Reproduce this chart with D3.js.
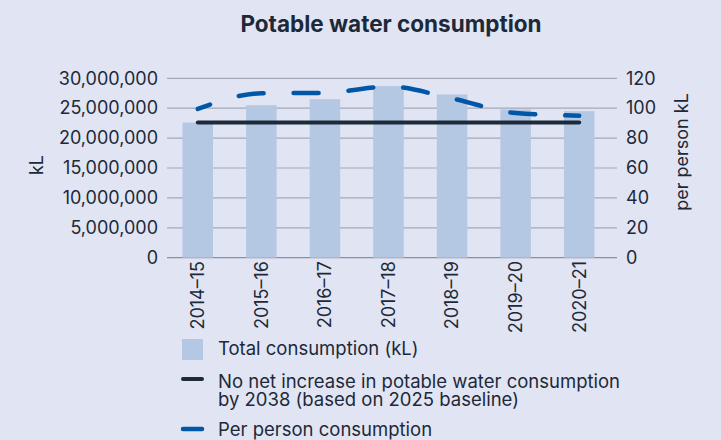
<!DOCTYPE html>
<html>
<head>
    <script src="https://cdnjs.cloudflare.com/ajax/libs/d3/7.8.5/d3.min.js"></script>
    <style>
      body { margin: 0; background: #e1e5f3; }
      svg { display: block; font-family: Inter, sans-serif; }
      text { fill: #1d2939; }
    </style>
</head>
<body>
    <svg width="721" height="440"></svg>
    <script>
      let years = ['2014–15', '2015–16', '2016–17', '2017–18', '2018–19', '2019–20', '2020–21']
      let totalKL = [22600000, 25500000, 26500000, 28700000, 27300000, 24800000, 24500000]
      let targetKL = [22600000, 22600000, 22600000, 22600000, 22600000, 22600000, 22600000]
      let perPerson = [99.5, 110, 110.3, 114.5, 106.5, 96.8, 95]
      let leftTicks = [0, 5000000, 10000000, 15000000, 20000000, 25000000, 30000000]
      let rightTicks = [0, 20, 40, 60, 80, 100, 120]
      let legendLabels = [
        ['Total consumption (kL)'],
        ['No net increase in potable water consumption', 'by 2038 (based on 2025 baseline)'],
        ['Per person consumption']
      ]

      let svg = d3.select('svg')
      let x = d3.scaleBand().domain(years).range([166, 611]).paddingInner(0.52).paddingOuter(0.26)
      let yL = d3.scaleLinear().domain([0, 30000000]).range([257.7, 78.3])
      let yR = d3.scaleLinear().domain([0, 120]).range([257.7, 78.3])
      let gridX0 = 167, gridX1 = 617
      let fs = '18px'

      svg.append('text')
        .attr('x', 391).attr('y', 32)
        .attr('text-anchor', 'middle')
        .style('font-size', '22.5px').style('font-weight', 'bold')
        .text('Potable water consumption')

      // gridlines
      svg.selectAll('.grid').data(leftTicks).enter().append('line')
        .attr('x1', gridX0).attr('x2', gridX1)
        .attr('y1', function(d) { return yL(d) }).attr('y2', function(d) { return yL(d) })
        .style('stroke', function(d) { return d === 0 ? '#8a90a2' : '#a3a8b8' })
        .style('stroke-width', '1.2px')

      let leftAxis = d3.axisLeft(yL).tickValues(leftTicks).tickSize(0).tickPadding(9).tickFormat(d3.format(','))
      svg.append('g').attr('transform', 'translate(' + gridX0 + ',0)').call(leftAxis)
        .call(function(g) { g.select('.domain').remove() })
        .selectAll('text').style('font-size', fs).style('font-family', 'Inter')

      let rightAxis = d3.axisRight(yR).tickValues(rightTicks).tickSize(0).tickPadding(9)
      svg.append('g').attr('transform', 'translate(' + gridX1 + ',0)').call(rightAxis)
        .call(function(g) { g.select('.domain').remove() })
        .selectAll('text').style('font-size', fs).style('font-family', 'Inter')

      svg.append('text')
        .attr('transform', 'translate(43,165) rotate(-90)')
        .attr('text-anchor', 'middle')
        .style('font-size', fs)
        .text('kL')

      svg.append('text')
        .attr('transform', 'translate(688,152) rotate(-90)')
        .attr('text-anchor', 'middle')
        .style('font-size', fs)
        .text('per person kL')

      // bars
      svg.selectAll('.bar').data(totalKL).enter().append('rect')
        .attr('x', function(d, i) { return x(years[i]) })
        .attr('width', x.bandwidth())
        .attr('y', function(d) { return yL(d) })
        .attr('height', function(d) { return yL(0) - yL(d) })
        .style('fill', '#b4c7e3')

      // x labels
      svg.selectAll('.xlab').data(years).enter().append('text')
        .attr('transform', function(d) {
          return 'translate(' + (x(d) + x.bandwidth() / 2) + ',261) rotate(-90)'
        })
        .attr('dy', '0.35em')
        .attr('text-anchor', 'end')
        .style('font-size', fs)
        .text(function(d) { return d })

      let cx = function(d, i) { return x(years[i]) + x.bandwidth() / 2 }

      svg.append('path')
        .datum(targetKL)
        .attr('d', d3.line().x(cx).y(function(d) { return yL(d) }))
        .style('fill', 'none')
        .style('stroke', '#1c2a3a')
        .style('stroke-width', '4px')
        .style('stroke-linecap', 'round')

      svg.append('path')
        .datum(perPerson)
        .attr('d', d3.line().x(cx).y(function(d) { return yR(d) }).curve(d3.curveMonotoneX))
        .style('fill', 'none')
        .style('stroke', '#0057a8')
        .style('stroke-width', '4.5px')
        .style('stroke-linecap', 'round')
        .style('stroke-dasharray', '25,30')
        .style('stroke-dashoffset', '12')

      // legend
      let legend = svg.append('g')
      legend.append('rect')
        .attr('x', 182).attr('y', 339).attr('width', 21).attr('height', 21)
        .style('fill', '#b4c7e3')
      legend.append('line')
        .attr('x1', 183).attr('x2', 202).attr('y1', 379).attr('y2', 379)
        .style('stroke', '#1c2a3a').style('stroke-width', '4px').style('stroke-linecap', 'round')
      legend.append('line')
        .attr('x1', 183).attr('x2', 202).attr('y1', 429).attr('y2', 429)
        .style('stroke', '#0057a8').style('stroke-width', '4.5px').style('stroke-linecap', 'round')

      let baselines = [355, 388, 436]
      legendLabels.forEach(function(lines, i) {
        let t = legend.append('text')
          .attr('x', 218).attr('y', baselines[i])
          .style('font-size', '18.5px')
        lines.forEach(function(l, j) {
          t.append('tspan').attr('x', 218).attr('dy', j === 0 ? 0 : 17.5).text(l)
        })
      })
    </script>
</body>
</html>
